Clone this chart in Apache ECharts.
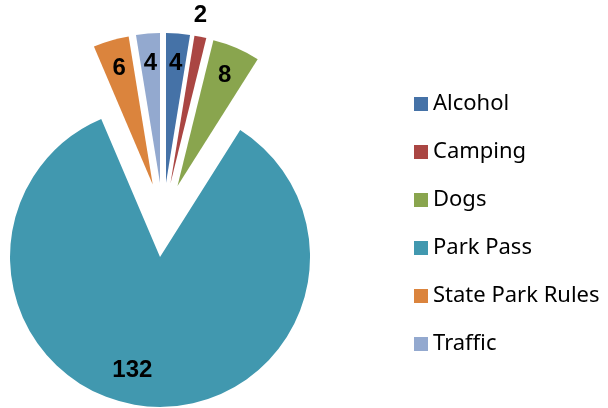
<!DOCTYPE html>
<html>
<head>
<meta charset="utf-8">
<script src="https://cdn.jsdelivr.net/npm/echarts@6/dist/echarts.min.js"></script>
<style>
  html, body { margin: 0; padding: 0; background: #fff; }
  #main { width: 608px; height: 408px; }
</style>
</head>
<body>
<div id="main"></div>
<script>
var categories = ['Alcohol', 'Camping', 'Dogs', 'Park Pass', 'State Park Rules', 'Traffic'];
var counts = [4, 2, 8, 132, 6, 4];
var colors = ['#4572A7', '#AA4643', '#89A54E', '#4198AF', '#DB843D', '#93A9CF'];

// excel "best fit" put a couple of labels off the usual spot
var labelShift = { 'Camping': [6, -50], 'Park Pass': [-18, -7] };

var chart = echarts.init(document.getElementById('main'));

function slices() {
  return categories.map(function (name, i) {
    return { name: name, value: counts[i], selected: true };
  });
}

var pieBase = {
  type: 'pie',
  center: [163, 220],
  startAngle: 90,
  clockwise: true,
  selectedMode: 'multiple',
  selectedOffset: 37,
  avoidLabelOverlap: false,
  animation: false,
  emphasis: { scale: false, disabled: true },
  select: { itemStyle: { borderWidth: 0 } }
};

chart.setOption({
  color: colors,
  legend: {
    orient: 'vertical',
    left: 409,
    top: 88,
    itemWidth: 14,
    itemHeight: 14,
    itemGap: 26,
    icon: 'rect',
    selectedMode: false,
    data: categories,
    textStyle: { fontFamily: 'Noto Sans', fontSize: 22, color: '#000' }
  },
  series: [
    Object.assign({}, pieBase, {
      name: 'shapes',
      radius: 150,
      label: { show: false },
      labelLine: { show: false },
      data: slices()
    }),
    Object.assign({}, pieBase, {
      name: 'labels',
      radius: [85, 150],
      silent: true,
      legendHoverLink: false,
      itemStyle: { color: 'rgba(0,0,0,0)' },
      select: { itemStyle: { color: 'rgba(0,0,0,0)', borderWidth: 0 } },
      label: {
        show: true,
        position: 'inside',
        formatter: '{c}',
        color: '#000',
        fontFamily: 'Liberation Sans',
        fontWeight: 'bold',
        fontSize: 24
      },
      labelLine: { show: false },
      labelLayout: function (p) {
        var s = labelShift[categories[p.dataIndex]];
        return s ? { dx: s[0], dy: s[1] } : {};
      },
      data: slices()
    })
  ]
});
</script>
</body>
</html>
